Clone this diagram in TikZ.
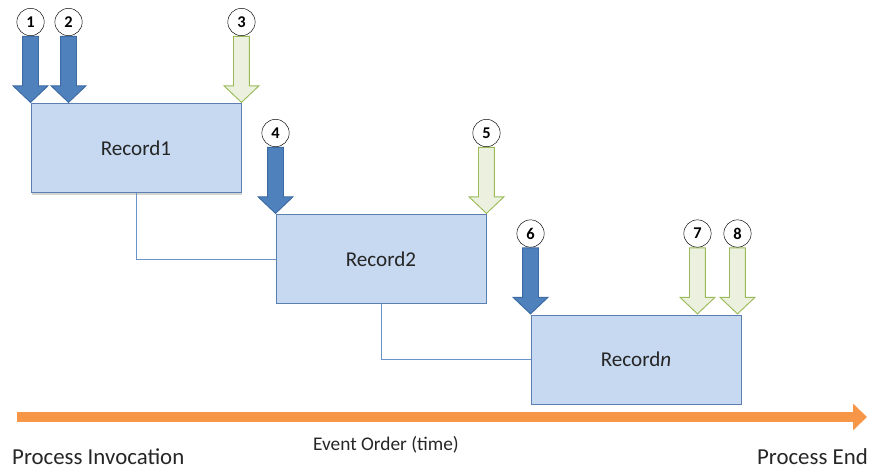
\documentclass[tikz,border=0pt]{standalone}
\usepackage{fontspec}
\setmainfont{Carlito}
\usetikzlibrary{positioning,shapes.arrows,shadows,arrows.meta}

\definecolor{boxfill}{HTML}{C6D9F1}
\definecolor{boxline}{HTML}{5A7FB0}
\definecolor{inblue}{HTML}{4F81BD}
\definecolor{inline}{HTML}{3C6AA3}
\definecolor{okfill}{HTML}{EBF1DE}
\definecolor{okline}{HTML}{9BBB59}
\definecolor{timecol}{HTML}{F79646}
\definecolor{linkcol}{HTML}{6A93C9}

\tikzset{
  record/.style={draw=boxline, fill=boxfill, line width=0.8pt, minimum width=6.3cm, minimum height=2.67cm, font=\fontsize{18}{21}\selectfont, text=black!85},
  evarrow/.style={single arrow, rotate=-90, anchor=tip, minimum height=1.98cm, minimum width=1.02cm, inner sep=0.225cm, single arrow head extend=0.285cm, single arrow tip angle=93, line width=0.8pt},
  callin/.style={evarrow, draw=inline, fill=inblue},
  callout/.style={evarrow, draw=okline, fill=okfill},
  num/.style={circle, draw, fill=white, inner sep=0pt, minimum size=0.82cm, font=\fontsize{14}{14}\selectfont\bfseries},
  link/.style={draw=linkcol, line width=0.8pt},
  label/.style={inner sep=0pt, font=\fontsize{19.5}{22}\selectfont, text=black!85},
}

\begin{document}
\begin{tikzpicture}[x=0.03cm, y=-0.03cm]
  \useasboundingbox (0,0) rectangle (881,470);
  % Records
  \node[record, drop shadow={opacity=0.35, shadow xshift=0.04cm, shadow yshift=-0.08cm}] (r1) at (136,148) {Record1};
  \node[record] (r2) at (381,259) {Record2};
  \node[record] (r3) at (636,359.5) {Record\textit{n}};
  % Links
  \draw[link] (r1.south) |- (r2.west);
  \draw[link] (r2.south) |- (r3.west);
  % Events
  \node[callin] (a1) at (r1.north west) {};
  \node[callin] (a2) at ([xshift=1.14cm]r1.north west) {};
  \node[callout] (a3) at (r1.north east) {};
  \node[callin] (a4) at (r2.north west) {};
  \node[callout] (a5) at (r2.north east) {};
  \node[callin] (a6) at (r3.north west) {};
  \node[callout] (a7) at ([xshift=-1.32cm]r3.north east) {};
  \node[callout] (a8) at ([xshift=-0.12cm]r3.north east) {};
  % Numbers
  \foreach \i in {1,...,8}
    \node[num, above=0pt of a\i.tail] (n\i) {\i};
  % Time
  \coordinate (tstart) at (17,417);
  \coordinate (tend) at (867,417);
  \draw[timecol, line width=0.3cm, -{Triangle[width=0.78cm, length=0.42cm]}] (tstart) -- (tend);
  \node[label, anchor=base west] (pinv) at (12,464) {Process Invocation};
  \node[label, anchor=base east] (pend) at (868,464) {Process End};
  \node[label, anchor=base, font=\fontsize{16.5}{19}\selectfont] (order) at (386,450) {Event Order (time)};
\end{tikzpicture}
\end{document}
